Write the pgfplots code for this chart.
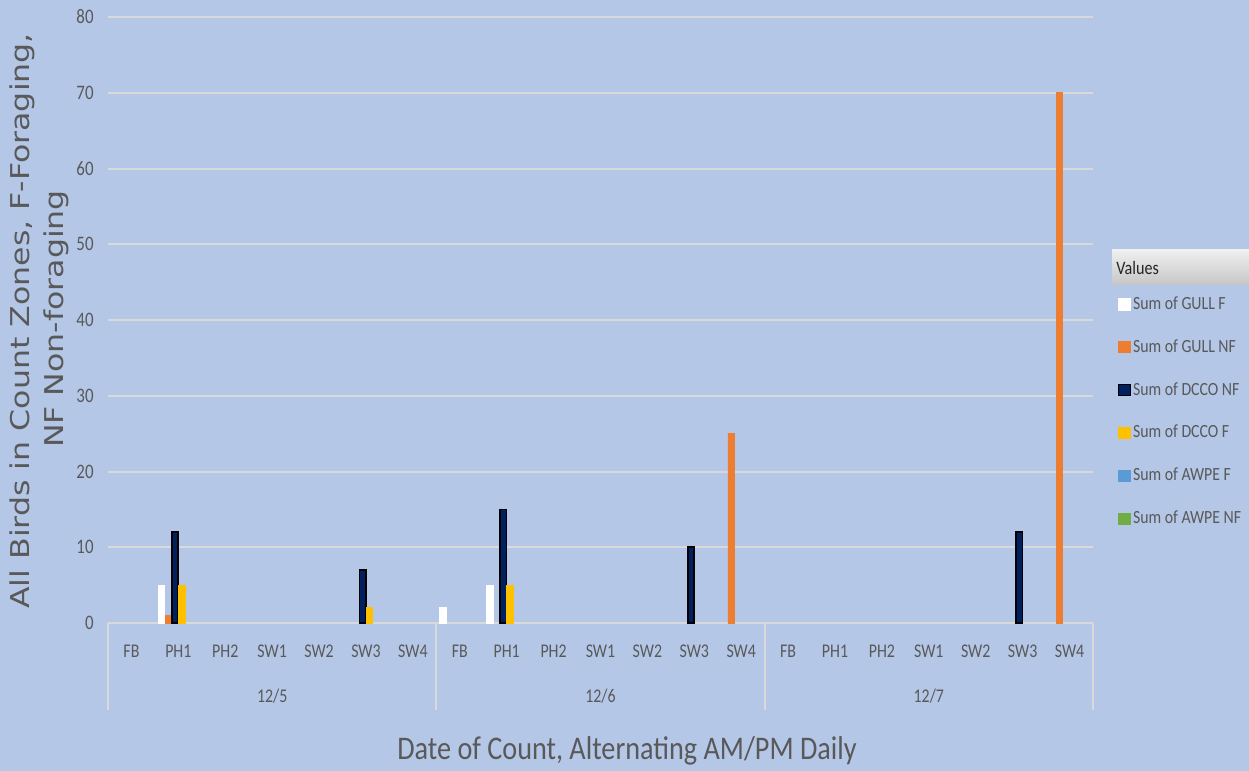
\documentclass[border=0pt]{standalone}
\usepackage{pgfplots}
\pgfplotsset{compat=1.18}
\usepackage{fontspec}
\setmainfont{Carlito}
\newfontfamily\ylabfont{DejaVu Sans}
\definecolor{bg}{HTML}{B4C7E7}
\definecolor{gridc}{HTML}{D9D9D9}
\definecolor{txt}{HTML}{595959}
\definecolor{gorange}{HTML}{ED7D31}
\definecolor{dnavy}{HTML}{002060}
\definecolor{dyellow}{HTML}{FFC000}
\definecolor{ablue}{HTML}{5B9BD5}
\definecolor{agreen}{HTML}{70AD47}
\newcommand\sx[1]{\scalebox{0.82}[1]{#1}}
\newcommand\sL[1]{\scalebox{0.85}[1]{#1}}
\begin{document}
\begin{tikzpicture}
\fill[bg] (-54pt,-74pt) rectangle (570.5pt,311.5pt);
\begin{axis}[
  scale only axis, width=492.5pt, height=303pt,
  xmin=-0.5, xmax=20.5, ymin=0, ymax=80,
  axis line style={draw=none},
  clip=false,
  major tick length=0pt,
  ymajorgrids, grid style={gridc, line width=1pt},
  ytick={0,10,...,80},
  yticklabels={\sx{0},\sx{10},\sx{20},\sx{30},\sx{40},\sx{50},\sx{60},\sx{70},\sx{80}},
  yticklabel style={anchor=east, inner sep=0pt, xshift=-7pt, font=\fontsize{10.3}{12}\selectfont, text=txt},
  xtick={0,...,20},
  xticklabels={\sx{FB},\sx{PH1},\sx{PH2},\sx{SW1},\sx{SW2},\sx{SW3},\sx{SW4},
               \sx{FB},\sx{PH1},\sx{PH2},\sx{SW1},\sx{SW2},\sx{SW3},\sx{SW4},
               \sx{FB},\sx{PH1},\sx{PH2},\sx{SW1},\sx{SW2},\sx{SW3},\sx{SW4}},
  xticklabel style={anchor=base, inner sep=0pt, yshift=-17.5pt, font=\fontsize{9.7}{11}\selectfont, text=txt},
  ybar, bar width=3.2pt,
  legend image code/.code={\draw[#1, line width=0.5pt] (0pt,-2.9pt) rectangle (5.8pt,2.9pt);},
  legend cell align=left,
  legend style={at={(1.0254,0.543)}, anchor=north west, draw=none, fill=none, inner sep=0pt,
    row sep=11.6pt, font=\fontsize{9.3}{11}\selectfont, text=txt,
    nodes={inner sep=1pt}},
]
\addplot[fill=white, draw=white, bar shift=-8.375pt] coordinates {(1,5) (7,2) (8,5)};
\addplot[fill=gorange, draw=gorange, bar shift=-5.025pt] coordinates {(1,1) (13,25) (20,70)};
\addplot[fill=dnavy, draw=black, line width=0.8pt, bar shift=-1.675pt] coordinates {(1,12) (5,7) (8,15) (12,10) (19,12)};
\addplot[fill=dyellow, draw=dyellow, bar shift=1.675pt] coordinates {(1,5) (5,2) (8,5)};
\addlegendimage{fill=ablue, draw=ablue}
\addlegendimage{fill=agreen, draw=agreen}
\legend{\sL{Sum of GULL F},\sL{Sum of GULL NF},\sL{Sum of DCCO NF},\sL{Sum of DCCO F},\sL{Sum of AWPE F},\sL{Sum of AWPE NF}}
\draw[gridc, line width=1pt] (axis cs:-0.5,0) -- ([yshift=-43.5pt]axis cs:-0.5,0);
\draw[gridc, line width=1pt] (axis cs:6.5,0) -- ([yshift=-43.5pt]axis cs:6.5,0);
\draw[gridc, line width=1pt] (axis cs:13.5,0) -- ([yshift=-43.5pt]axis cs:13.5,0);
\draw[gridc, line width=1pt] (axis cs:20.5,0) -- ([yshift=-43.5pt]axis cs:20.5,0);
\node[anchor=base, inner sep=0pt, font=\fontsize{9.7}{11}\selectfont, text=txt] at ([yshift=-40pt]axis cs:3,0) {\sx{12/5}};
\node[anchor=base, inner sep=0pt, font=\fontsize{9.7}{11}\selectfont, text=txt] at ([yshift=-40pt]axis cs:10,0) {\sx{12/6}};
\node[anchor=base, inner sep=0pt, font=\fontsize{9.7}{11}\selectfont, text=txt] at ([yshift=-40pt]axis cs:17,0) {\sx{12/7}};
\end{axis}
\shade[top color=gray!12, bottom color=gray!45] (502pt,169pt) rectangle (570.5pt,186.5pt);
\node[anchor=west, inner sep=0pt, font=\fontsize{9.5}{11}\selectfont, text=black!85] at (504pt,177.75pt) {\sL{Values}};
\node[anchor=base, inner sep=0pt, font=\fontsize{16.5}{18}\selectfont, text=txt] at (259.5pt,-68.5pt) {\scalebox{0.855}[1]{Date of Count, Alternating AM/PM Daily}};
\node[rotate=90, anchor=base, inner sep=0pt, font=\ylabfont\fontsize{15.8}{18}\selectfont, text=txt] at (-39pt,151pt) {\scalebox{1}[0.82]{All Birds in Count Zones, F-Foraging,}};
\node[rotate=90, anchor=base, inner sep=0pt, font=\ylabfont\fontsize{15.8}{18}\selectfont, text=txt] at (-22.5pt,152pt) {\scalebox{1}[0.82]{NF Non-foraging}};
\pgfresetboundingbox
\path (-54pt,-74pt) rectangle (570.5pt,311.5pt);
\end{tikzpicture}
\end{document}
